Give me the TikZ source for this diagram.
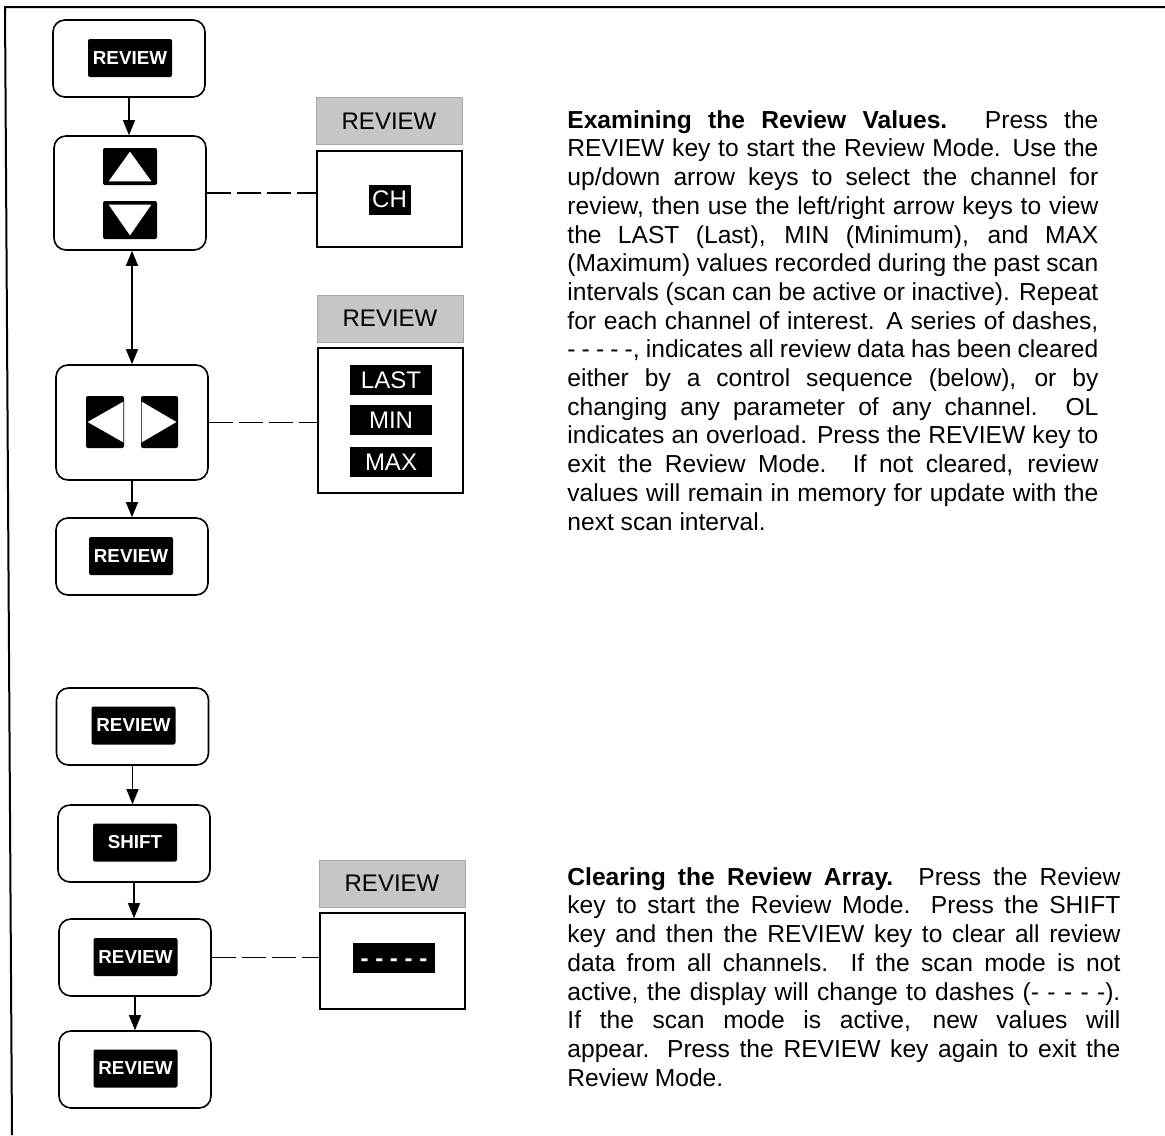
\documentclass[tikz,border=0pt]{standalone}
\usepackage{fontspec}
\setmainfont{Liberation Sans}
\usetikzlibrary{arrows.meta,calc}
\tikzset{
  keybox/.style   = {draw,line width=0.8pt,rounded corners=6pt,minimum width=76pt,minimum height=38.5pt},
  keycap/.style   = {fill=black,text=white,rounded corners=1pt,inner sep=0pt,minimum width=42pt,minimum height=19pt,font=\fontsize{9.4}{10}\selectfont\bfseries},
  arrowcap/.style = {fill=black,rounded corners=1pt,inner sep=0pt},
  disptag/.style  = {fill=gray!45,draw=gray!70,inner sep=0pt,minimum width=73pt,minimum height=23.5pt,font=\fontsize{12}{13}\selectfont},
  dispbox/.style  = {draw,line width=0.7pt,minimum width=72.5pt,inner sep=0pt},
  dispkey/.style  = {fill=black,text=white,inner sep=0pt,minimum width=41pt,minimum height=15pt,font=\fontsize{12}{13}\selectfont},
  flowarr/.style  = {-{Triangle[length=7.5pt,width=6pt]},line width=0.6pt},
  twoarr/.style   = {{Triangle[length=7.5pt,width=6pt]}-{Triangle[length=7.5pt,width=6pt]},line width=0.6pt},
  linkline/.style = {line width=0.7pt,dash pattern=on 12pt off 3pt},
  para/.style     = {anchor=north west,inner sep=0pt,align=justify,font=\fontsize{12.3}{14.35}\selectfont}
}

\begin{document}
\begin{tikzpicture}[x=0.5pt,y=-0.5pt]
  \useasboundingbox (0,0) rectangle (1165,1135);
  \draw[line width=1pt] (12,1135) -- (5,7) -- (1165,7);

  % examining the review values
  \node[keybox] (rev1) at (129,58.5) {};
  \node[keycap] (rev1k) at (130,58) {REVIEW};
  \node[keybox,minimum height=57pt] (updn) at (130,193) {};
  \node[arrowcap,minimum width=27pt,minimum height=18.5pt] (upk) at (130,166.5) {};
  \node[arrowcap,minimum width=27pt,minimum height=19pt] (dnk) at (130,220) {};
  \fill[white] ($(upk.south west)+(3pt,2pt)$) -- ($(upk.south east)+(-3pt,2pt)$) -- ($(upk.north)+(0,-2pt)$) -- cycle;
  \fill[white] ($(dnk.north west)+(3pt,-2pt)$) -- ($(dnk.north east)+(-3pt,-2pt)$) -- ($(dnk.south)+(0,2pt)$) -- cycle;
  \node[keybox,minimum height=57.5pt] (lr) at (132,422.5) {};
  \node[arrowcap,minimum width=19pt,minimum height=26pt] (lk) at (105,422) {};
  \node[arrowcap,minimum width=18.5pt,minimum height=26pt] (rk) at (159.5,422) {};
  \fill[white] ($(lk.west)+(1pt,0)$) -- ($(lk.north east)+(-0.5pt,-3pt)$) -- ($(lk.south east)+(-0.5pt,3pt)$) -- cycle;
  \fill[white] ($(rk.east)+(-1pt,0)$) -- ($(rk.north west)+(0.5pt,-3pt)$) -- ($(rk.south west)+(0.5pt,3pt)$) -- cycle;
  \node[keybox] (rev2) at (132,556.5) {};
  \node[keycap] (rev2k) at (131,556) {REVIEW};

  \draw[flowarr] (rev1.south) -- (rev1.south |- updn.north);
  \draw[twoarr] (lr.north |- updn.south) -- (lr.north);
  \draw[flowarr] (lr.south) -- (rev2.north);

  \node[disptag] (tag1) at (389,121) {REVIEW};
  \node[dispbox,minimum height=48pt] (disp1) at (389.5,199) {};
  \node[dispkey,minimum width=21pt] (chk) at (389.5,199.5) {CH};
  \draw[linkline] (updn.east) -- (updn.east -| disp1.west);

  \node[disptag] (tag2) at (390,318.5) {REVIEW};
  \node[dispbox,minimum height=72.5pt] (disp2) at (390.5,420.5) {};
  \node[dispkey] (lastk) at (391,380) {LAST};
  \node[dispkey] (mink) at (391,420) {MIN};
  \node[dispkey] (maxk) at (391,462) {MAX};
  \draw[linkline] (lr.east) -- (lr.east -| disp2.west);

  % clearing the review array
  \node[keybox] (rev3) at (132.5,726.5) {};
  \node[keycap] (rev3k) at (133.5,725.5) {REVIEW};
  \node[keybox] (shift) at (134,843.5) {};
  \node[keycap] (shiftk) at (135,842.5) {SHIFT};
  \node[keybox] (rev4) at (135,957.5) {};
  \node[keycap] (rev4k) at (135.5,957) {REVIEW};
  \node[keybox] (rev5) at (135,1069.5) {};
  \node[keycap] (rev5k) at (135.5,1068.5) {REVIEW};

  \draw[flowarr] (rev3.south) -- (rev3.south |- shift.north);
  \draw[flowarr] (shift.south) -- (shift.south |- rev4.north);
  \draw[flowarr] (rev4.south) -- (rev5.north);

  \node[disptag] (tag3) at (392,883.5) {REVIEW};
  \node[dispbox,minimum height=48pt] (disp3) at (392.5,961) {};
  \node[dispkey] (dashk) at (394,958) {\vphantom{A}\bfseries -~-~-~-~-};
  \draw[linkline] (rev4.east) -- (rev4.east -| disp3.west);

  \node[para,text width=265.5pt] (txt1) at (567,110) {%
    \textbf{Examining the Review Values.} Press the\linebreak
    REVIEW key to start the Review Mode. Use the\linebreak
    up/down arrow keys to select the channel for\linebreak
    review, then use the left/right arrow keys to view\linebreak
    the LAST (Last), MIN (Minimum), and MAX\linebreak
    (Maximum) values recorded during the past scan\linebreak
    intervals (scan can be active or inactive). Repeat\linebreak
    for each channel of interest. A series of dashes,\linebreak
    -~-~-~-~-, indicates all review data has been cleared\linebreak
    either by a control sequence (below), or by\linebreak
    changing any parameter of any channel. OL\linebreak
    indicates an overload. Press the REVIEW key to\linebreak
    exit the Review Mode. If not cleared, review\linebreak
    values will remain in memory for update with the\linebreak
    next scan interval.};
  \node[para,text width=276.5pt] (txt2) at (567,867) {%
    \textbf{Clearing the Review Array.} Press the Review\linebreak
    key to start the Review Mode. Press the SHIFT\linebreak
    key and then the REVIEW key to clear all review\linebreak
    data from all channels. If the scan mode is not\linebreak
    active, the display will change to dashes (-~-~-~-~-).\linebreak
    If the scan mode is active, new values will\linebreak
    appear. Press the REVIEW key again to exit the\linebreak
    Review Mode.};
\end{tikzpicture}
\end{document}
